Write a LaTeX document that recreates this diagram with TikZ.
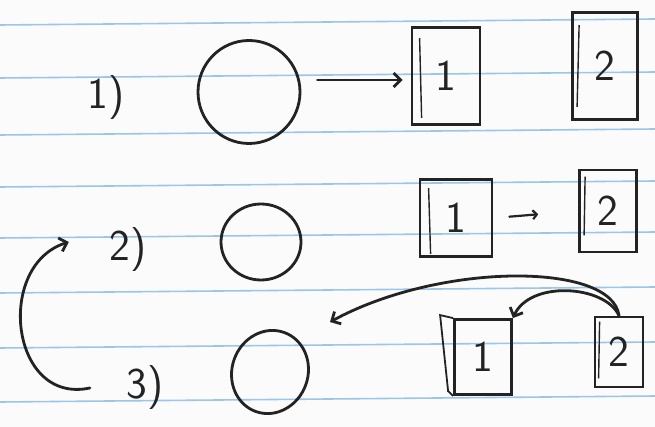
\documentclass[tikz,border=0pt]{standalone}
\usepackage{xcolor}
\usepackage{tikz}
\usetikzlibrary{positioning,shapes.geometric,arrows.meta}
\definecolor{ink}{RGB}{35, 35, 35}
\definecolor{ruleblue}{RGB}{155, 198, 235}
\definecolor{paper}{RGB}{251, 251, 251}

\begin{document}
\begin{tikzpicture}[x=1pt, y=-1pt, line width=2.8pt, ink,
  every node/.style={font=\sffamily\fontsize{44}{46}\selectfont, text=ink},
  box/.style={draw, inner sep=0pt},
  blob/.style={draw, ellipse, inner sep=0pt},
  arr/.style={-{Straight Barb[length=7pt,width=14pt]}, line cap=round}]
  \fill[paper] (0,0) rectangle (655,427);
  \useasboundingbox (0,0) rectangle (655,427);
  \foreach \y in {25,78,135,187,238,293,348,402}
    \draw[ruleblue, line width=1.6pt] (0,\y) -- (655,\y-6);

  \node (lab1) at (106,98) {1)};
  \node[blob, minimum width=102pt, minimum height=103pt] (o1) at (249,92) {};
  \node[box, minimum width=68pt, minimum height=97pt] (a1) at (446,76) {1};
  \node[box, minimum width=65pt, minimum height=107pt] (a2) at (605,66) {2};
  \draw[arr, shorten <=16pt, shorten >=8pt] ([yshift=-4pt]o1.east |- a1.west) -- ([yshift=-4pt]a1.west);

  \node (lab2) at (128,250) {2)};
  \node[blob, minimum width=80pt, minimum height=76pt] (o2) at (261,242) {};
  \node[box, minimum width=72pt, minimum height=77pt] (b1) at (456,218) {1};
  \node[box, minimum width=57pt, minimum height=82pt] (b2) at (608,211) {2};
  \draw[-{Straight Barb[length=4pt,width=9pt]}, line width=2.2pt, line cap=round, shorten <=16pt, shorten >=40pt] (b1.east) -- (b2.west);

  \node (lab3) at (145,388) {3)};
  \node[blob, minimum width=76pt, minimum height=84pt, rotate=-20] (o3) at (270,372) {};
  \node[box, minimum width=57pt, minimum height=75pt] (c1) at (483,357) {1};
  \node[box, minimum width=48pt, minimum height=70pt] (c2) at (619,352) {2};
  \coordinate (hook) at (330,322);
  \draw[arr] (c2.north) .. controls (612,262) and (440,262) .. (hook);
  \draw[arr] (c2.north) .. controls (605,285) and (530,280) .. (c1.north east);
  \draw[arr] ([xshift=-32pt]lab3.west) .. controls (10,405) and (-5,265) .. ([xshift=-36pt,yshift=8pt]lab2.west);

  \draw[line width=1.4pt] ([xshift=9pt,yshift=-12pt]a1.north west) -- ([xshift=11pt,yshift=8pt]a1.south west);
  \draw[line width=1.4pt] ([xshift=8pt,yshift=-14pt]a2.north west) -- ([xshift=6pt,yshift=14pt]a2.south west);
  \draw[line width=1.4pt] ([xshift=10pt,yshift=-10pt]b1.north west) -- ([xshift=12pt,yshift=4pt]b1.south west);
  \draw[line width=1.4pt] ([xshift=7pt,yshift=-8pt]b2.north west) -- ([xshift=6pt,yshift=18pt]b2.south west);
  \draw[line width=1.4pt] ([xshift=6pt,yshift=-6pt]c2.north west) -- ([xshift=5pt,yshift=10pt]c2.south west);
  \draw[line width=1.8pt] (c1.north west) -- ++(-13,-3) -- ++(8,76) -- (c1.south west);
\end{tikzpicture}
\end{document}
